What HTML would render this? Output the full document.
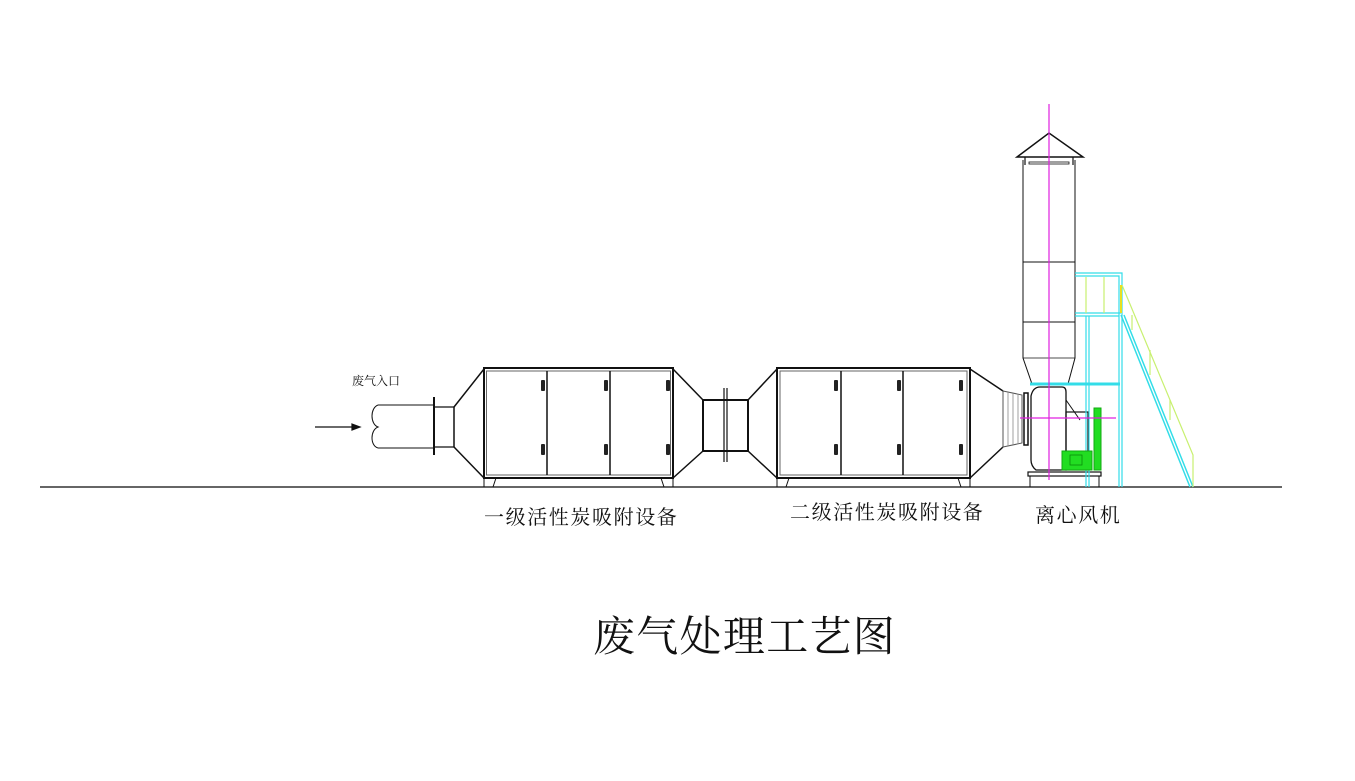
<!DOCTYPE html>
<html><head><meta charset="utf-8"><style>
html,body{margin:0;padding:0;background:#fff;width:1355px;height:781px;overflow:hidden}
svg{display:block}
text{font-family:"Liberation Serif","Noto Serif CJK SC","Noto Sans CJK SC",serif;fill:#111}
</style></head><body>
<svg width="1355" height="781" viewBox="0 0 1355 781" xmlns="http://www.w3.org/2000/svg">
<g fill="none" stroke="#111" stroke-width="1.2">
<line x1="40" y1="487" x2="1282" y2="487" stroke="#333" stroke-width="1.5"/>
<line x1="315" y1="427" x2="358" y2="427"/>
<path d="M352,424 L360,427 L352,430Z" fill="#111"/>
<path d="M378,405 C370,408 370,424 378,427 C370,430 370,446 378,448" stroke-width="1"/>
<line x1="378" y1="405" x2="434" y2="405" stroke-width="1"/>
<line x1="378" y1="448" x2="434" y2="448" stroke-width="1"/>
<line x1="434" y1="397" x2="434" y2="455" stroke-width="2"/>
<line x1="434" y1="407" x2="454" y2="407"/>
<line x1="434" y1="447" x2="454" y2="447"/>
<line x1="454" y1="407" x2="454" y2="447" stroke-width="1.5"/>
<path d="M454,407 L484,369 M454,447 L484,478" stroke-width="1.5"/>
<rect x="484" y="368" width="189" height="110" stroke-width="2"/>
<rect x="486.5" y="371" width="184" height="104" stroke="#666" stroke-width="1"/>
<line x1="547" y1="371" x2="547" y2="475" stroke-width="1.5"/>
<line x1="610" y1="371" x2="610" y2="475" stroke-width="1.5"/>
<path d="M484,478 L484,487 M673,478 L673,487 M496,478 L493,487 M661,478 L664,487" stroke-width="1"/>
<path d="M673,369 L703,400 M673,478 L703,451" stroke-width="1.5"/>
<rect x="703" y="400" width="45" height="51" stroke-width="2"/>
<line x1="724" y1="388" x2="724" y2="462"/>
<line x1="727" y1="388" x2="727" y2="462"/>
<path d="M748,400 L777,369 M748,451 L777,478" stroke-width="1.5"/>
<rect x="777" y="368" width="193" height="110" stroke-width="2"/>
<rect x="780" y="371" width="187" height="104" stroke="#666" stroke-width="1"/>
<line x1="841" y1="371" x2="841" y2="475" stroke-width="1.5"/>
<line x1="903" y1="371" x2="903" y2="475" stroke-width="1.5"/>
<path d="M777,478 L777,487 M970,478 L970,487 M789,478 L786,487 M958,478 L961,487" stroke-width="1"/>
<path d="M970,369 L1003,391 M970,478 L1003,447" stroke-width="1.5"/>
<path d="M1003,391 L1022,395 L1022,443 L1003,447Z" stroke="#555" stroke-width="1"/>
<line x1="1008" y1="392" x2="1008" y2="446" stroke="#888" stroke-width="0.8"/>
<line x1="1013" y1="393" x2="1013" y2="445" stroke="#888" stroke-width="0.8"/>
<line x1="1018" y1="394" x2="1018" y2="444" stroke="#888" stroke-width="0.8"/>
<rect x="1024" y="393" width="4" height="52" stroke-width="1.5"/>
<path d="M1040,387 L1062,387 Q1066,387 1066,392 L1066,470 L1036,470 Q1031,466 1031,460 L1031,396 Q1033,387 1040,387Z" stroke-width="1.3"/>
<rect x="1066" y="412" width="22" height="58" stroke-width="1.2"/>
<path d="M1066,400 L1080,420" stroke-width="1"/>
<rect x="1028" y="472" width="73" height="4" stroke-width="1.2"/>
<path d="M1030,476 L1030,487 M1099,476 L1099,487" stroke-width="1"/>
<path d="M1017,157 L1049,133 L1083,157 Z" stroke-width="1.5"/>
<path d="M1025,157 L1025,165 M1073,157 L1073,165" stroke-width="1.2"/>
<path d="M1023,160 L1023,358 L1032,384 M1075,160 L1075,358 L1068,384" stroke-width="1"/>
<line x1="1023" y1="262" x2="1075" y2="262" stroke-width="1"/>
<line x1="1023" y1="322" x2="1075" y2="322" stroke-width="1"/>
<line x1="1023" y1="358" x2="1075" y2="358" stroke-width="0.8"/>
<rect x="1029" y="162" width="40" height="2" stroke-width="0.8"/>
</g>
<g fill="#222">
<rect x="541" y="380" width="4" height="11" rx="1"/><rect x="541" y="444" width="4" height="11" rx="1"/>
<rect x="604" y="380" width="4" height="11" rx="1"/><rect x="604" y="444" width="4" height="11" rx="1"/>
<rect x="666" y="380" width="4" height="11" rx="1"/><rect x="666" y="444" width="4" height="11" rx="1"/>
<rect x="834" y="380" width="4" height="11" rx="1"/><rect x="834" y="444" width="4" height="11" rx="1"/>
<rect x="897" y="380" width="4" height="11" rx="1"/><rect x="897" y="444" width="4" height="11" rx="1"/>
<rect x="959" y="380" width="4" height="11" rx="1"/><rect x="959" y="444" width="4" height="11" rx="1"/>
</g>
<g fill="none" stroke="#33dde8" stroke-width="1.2">
<path d="M1075,273 L1122,273 L1122,487 M1075,276 L1119,276 L1119,487"/>
<path d="M1075,313 L1121,313 M1075,316 L1119,316"/>
<path d="M1086,316 L1086,487 M1089,316 L1089,487"/>
<line x1="1030" y1="384" x2="1120" y2="384" stroke-width="3"/>
<path d="M1121,315 L1190,487 M1124,315 L1193,487" stroke-width="1.5"/>
</g>
<g fill="none" stroke="#c8f070" stroke-width="1.2">
<path d="M1086,277 L1086,313 M1104,277 L1104,313"/>
<path d="M1122,285 L1193,455 L1193,487"/>
<path d="M1132,315 L1132,330 M1150,350 L1150,375 M1170,400 L1170,420"/>
</g>
<line x1="1121" y1="285" x2="1121" y2="313" stroke="#e8e020" stroke-width="2"/>
<g fill="#22dd22" stroke="#11aa11" stroke-width="1">
<rect x="1062" y="451" width="30" height="19"/>
<rect x="1094" y="408" width="7" height="62"/>
</g>
<g fill="none" stroke="#0a8a0a" stroke-width="0.8"><rect x="1070" y="455" width="12" height="10"/></g>
<line x1="1049" y1="104" x2="1049" y2="480" stroke="#e020e0" stroke-width="1.2"/>
<line x1="1020" y1="418" x2="1116" y2="418" stroke="#e020e0" stroke-width="1.2"/>
<text x="352" y="385" font-size="12">废气入口</text>
<text x="484" y="524" font-size="20" letter-spacing="1.6">一级活性炭吸附设备</text>
<text x="790" y="519" font-size="20" letter-spacing="1.6">二级活性炭吸附设备</text>
<text x="1035" y="522" font-size="20" letter-spacing="1.6">离心风机</text>
<text x="593" y="651" font-size="42" letter-spacing="1.3">废气处理工艺图</text>
</svg>
</body></html>
